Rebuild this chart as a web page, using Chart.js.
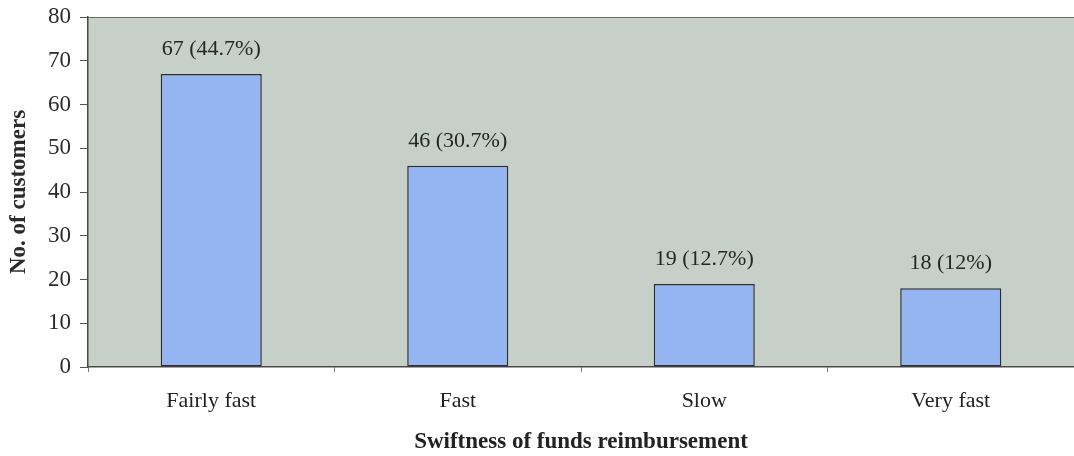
<!DOCTYPE html>
<html>
<head>
<meta charset="utf-8">
<script src="https://cdn.jsdelivr.net/npm/chart.js@4"></script>
<style>
  html, body { margin: 0; padding: 0; background: #ffffff; }
  #wrap { width: 1074px; height: 456px; position: relative; }
</style>
</head>
<body>
<div id="wrap"><canvas id="c" width="1074" height="456"></canvas></div>
<script>
// Survey results: how quickly funds were reimbursed
const categories = ['Fairly fast', 'Fast', 'Slow', 'Very fast'];
const customers = [67, 46, 19, 18];
const shares = ['44.7%', '30.7%', '12.7%', '12%'];
const yTicks = [0, 10, 20, 30, 40, 50, 60, 70, 80];

const serif = '"Liberation Serif", "Times New Roman", serif';

// Fill behind the plot area and draw its top border
const plotBackground = {
  id: 'plotBackground',
  beforeDraw(chart) {
    const { ctx, chartArea: a } = chart;
    ctx.save();
    ctx.fillStyle = '#c6cfc8';
    ctx.fillRect(a.left, a.top, a.right - a.left, a.bottom - a.top);
    ctx.strokeStyle = '#6a6f6c';
    ctx.lineWidth = 1;
    ctx.beginPath();
    ctx.moveTo(a.left, a.top + 0.5);
    ctx.lineTo(a.right, a.top + 0.5);
    ctx.stroke();
    ctx.restore();
  }
};

// Count and share written above each bar
const valueLabels = {
  id: 'valueLabels',
  afterDatasetsDraw(chart) {
    const { ctx } = chart;
    const meta = chart.getDatasetMeta(0);
    ctx.save();
    ctx.font = '22px ' + serif;
    ctx.fillStyle = '#262626';
    ctx.textAlign = 'center';
    ctx.textBaseline = 'middle';
    meta.data.forEach((bar, i) => {
      ctx.fillText(customers[i] + ' (' + shares[i] + ')', bar.x, bar.y - 25);
    });
    ctx.restore();
  }
};

new Chart(document.getElementById('c'), {
  type: 'bar',
  data: {
    labels: categories,
    datasets: [{
      data: customers,
      backgroundColor: '#95b5f2',
      borderColor: '#2e2e2e',
      borderWidth: 1.5,
      borderSkipped: false,
      categoryPercentage: 1.0,
      barPercentage: 0.41
    }]
  },
  options: {
    responsive: false,
    animation: false,
    layout: { padding: { top: 17, right: 0, left: 0, bottom: 0 } },
    plugins: {
      legend: { display: false },
      tooltip: { enabled: false }
    },
    scales: {
      x: {
        offset: true,
        grid: {
          offset: true,
          display: true,
          drawOnChartArea: false,
          drawTicks: true,
          tickLength: 5,
          color: '#777'
        },
        border: { display: true, color: '#4a4a4a', width: 1.5 },
        ticks: {
          color: '#222',
          font: { family: serif, size: 22 },
          padding: 16
        },
        title: {
          display: true,
          text: 'Swiftness of funds reimbursement',
          color: '#222',
          font: { family: serif, size: 23, weight: 'bold' },
          padding: { top: 14, bottom: 0 }
        },
        afterFit(scale) {
          scale.height = 89;
          scale.paddingLeft = 0;
          scale.paddingRight = 0;
        }
      },
      y: {
        min: 0,
        max: 80,
        afterBuildTicks(scale) { scale.ticks = yTicks.map(v => ({ value: v })); },
        grid: {
          display: true,
          drawOnChartArea: false,
          drawTicks: true,
          tickLength: 8,
          color: '#555'
        },
        border: { display: true, color: '#4a4a4a', width: 1.5 },
        ticks: {
          color: '#2b2b2b',
          font: { family: serif, size: 23 },
          padding: 9
        },
        title: {
          display: true,
          text: 'No. of customers',
          color: '#2b2b2b',
          font: { family: serif, size: 23, weight: 'bold' },
          padding: { top: 5, bottom: 0 }
        },
        afterFit(scale) {
          scale.width = 88;
          scale.paddingTop = 0;
          scale.paddingBottom = 0;
        }
      }
    }
  },
  plugins: [plotBackground, valueLabels]
});
</script>
</body>
</html>
